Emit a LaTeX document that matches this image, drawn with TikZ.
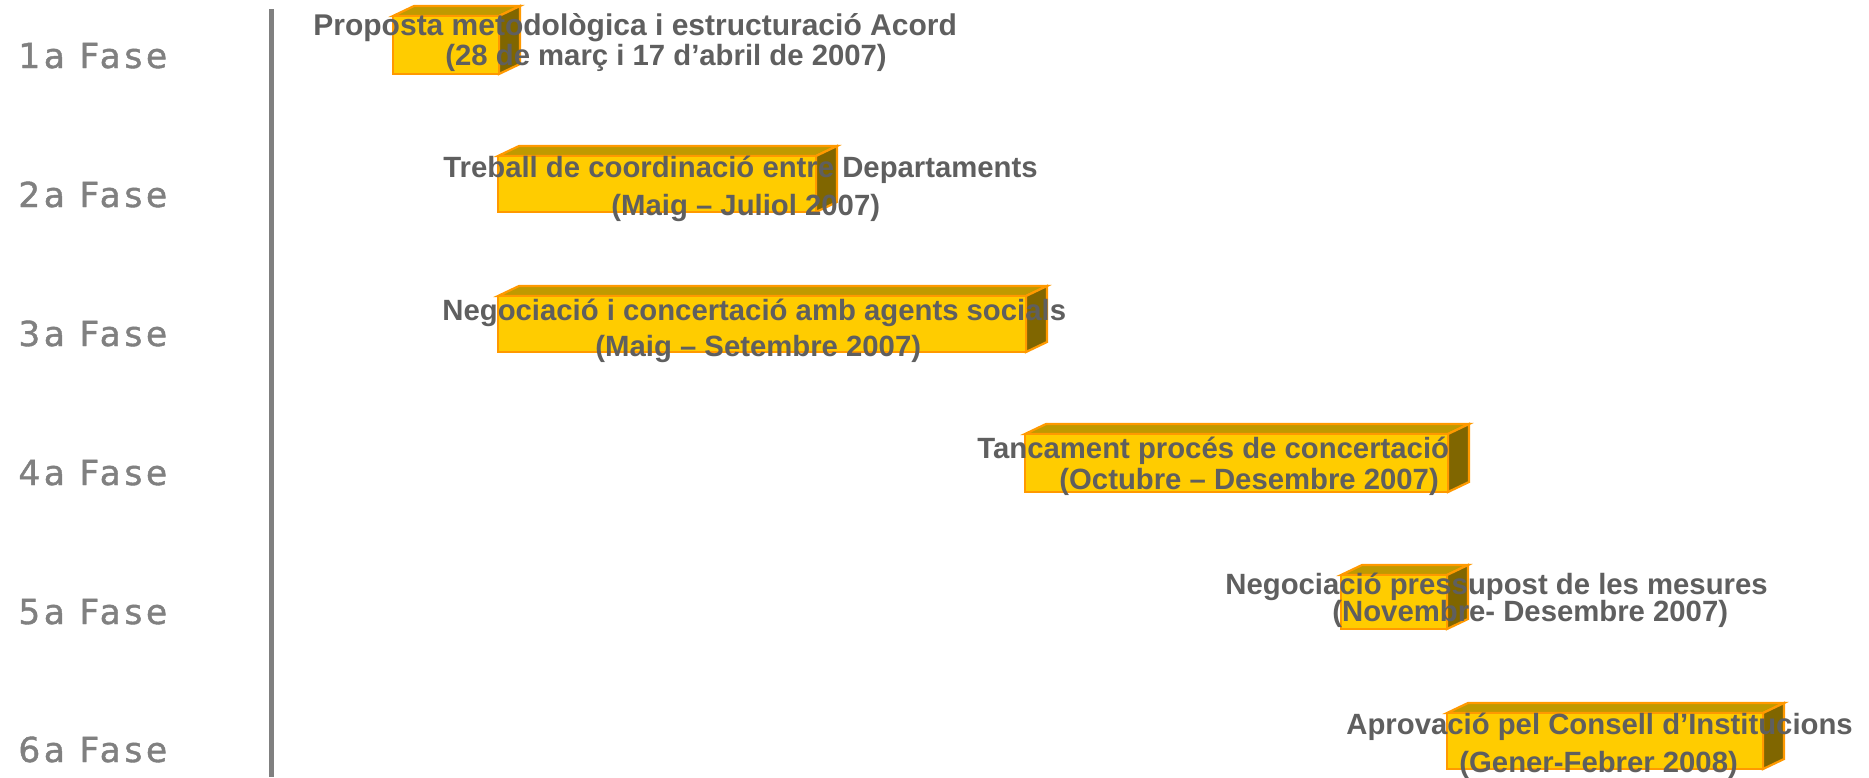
\documentclass[tikz,border=0pt]{standalone}
\usepackage{fontspec}
\setmainfont{Liberation Sans}
\newfontfamily\fasefont[LetterSpace=10.5,FakeBold=1.2]{DejaVu Sans}
\definecolor{frontc}{HTML}{FFCC00}
\definecolor{topc}{HTML}{C09A00}
\definecolor{sidec}{HTML}{806600}
\definecolor{edgec}{HTML}{FF9900}
\definecolor{txtc}{HTML}{5F5F5F}
\definecolor{fasec}{HTML}{808080}
\tikzset{
  face/.style={draw=edgec, line width=1.1pt, line join=miter},
  lbl/.style={font=\bfseries\fontsize{14.65}{17}\selectfont, text=txtc, inner sep=0pt, anchor=base west},
  fase/.style={font=\fasefont\fontsize{17.2}{20}\selectfont, text=fasec, inner sep=0pt, anchor=base west},
  axisline/.style={draw=fasec, line width=2.5pt},
}
% #1 x-left, #2 x-right, #3 y-top, #4 y-bottom
\newcommand\phasebar[4]{%
  \draw[face, fill=topc] (#1,#3) -- (#1+21,#3-10) -- (#2+21,#3-10) -- (#2,#3) -- cycle;
  \draw[face, fill=sidec] (#2,#3) -- (#2+21,#3-10) -- (#2+21,#4-10) -- (#2,#4) -- cycle;
  \draw[face, fill=frontc] (#1,#3) rectangle (#2,#4);
}
\begin{document}
\begin{tikzpicture}[x=0.5pt,y=-0.5pt]
\useasboundingbox (0,0) rectangle (1869,777);
% axis
\coordinate (axtop) at (271.5,9);
\coordinate (axbot) at (271.5,777);
\draw[axisline] (axtop) -- (axbot);
% phase labels
\node[fase] (f1) at (18,68) {1a Fase};
\node[fase] (f2) at (18,207) {2a Fase};
\node[fase] (f3) at (18,346) {3a Fase};
\node[fase] (f4) at (18,485) {4a Fase};
\node[fase] (f5) at (18,624) {5a Fase};
\node[fase] (f6) at (18,762) {6a Fase};
% bars
\phasebar{393}{499}{16}{74}
\phasebar{498}{816}{156}{212}
\phasebar{498}{1026}{296}{352}
\phasebar{1025}{1448}{434}{492}
\phasebar{1341}{1447}{575}{629}
\phasebar{1447}{1763}{713}{769}
% texts
\node[lbl, font=\bfseries\fontsize{15.0}{17}\selectfont] (t1a) at (313,35) {Proposta metodològica i estructuració Acord};
\node[lbl] (t1b) at (445,65) {(28 de març i 17 d’abril de 2007)};
\node[lbl] (t2a) at (443,177) {Treball de coordinació entre Departaments};
\node[lbl] (t2b) at (611,215) {(Maig – Juliol 2007)};
\node[lbl] (t3a) at (442,320) {Negociació i concertació amb agents socials};
\node[lbl] (t3b) at (595,356) {(Maig – Setembre 2007)};
\node[lbl] (t4a) at (977,458) {Tancament procés de concertació};
\node[lbl] (t4b) at (1059,489) {(Octubre – Desembre 2007)};
\node[lbl] (t5a) at (1225,594) {Negociació pressupost de les mesures};
\node[lbl] (t5b) at (1332,621) {(Novembre- Desembre 2007)};
\node[lbl] (t6a) at (1346,734) {Aprovació pel Consell d’Institucions};
\node[lbl] (t6b) at (1459,772) {(Gener-Febrer 2008)};
\end{tikzpicture}
\end{document}
